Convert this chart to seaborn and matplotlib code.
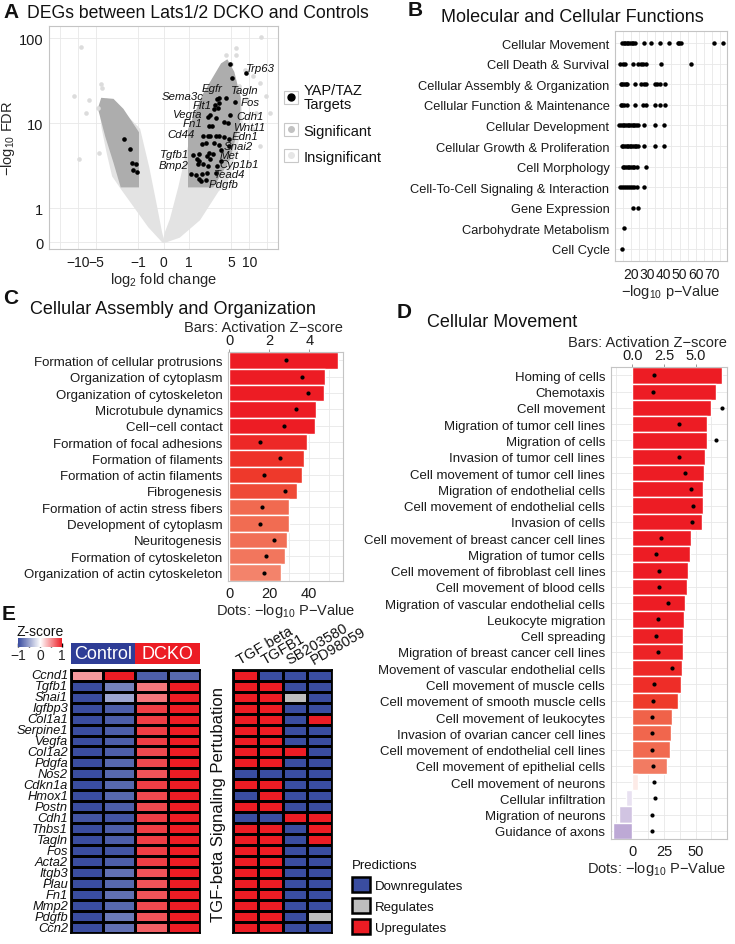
import numpy as np
import pandas as pd
import seaborn as sns
import matplotlib
matplotlib.use('Agg')
import matplotlib.pyplot as plt
from matplotlib.colors import LinearSegmentedColormap, ListedColormap, Normalize
from matplotlib.patches import Patch
from matplotlib.lines import Line2D
from matplotlib.cm import ScalarMappable

# ---------------- A: volcano ----------------
insig_left_x = [0, -0.57, -1.09, -1.83, -2.6, -3.2, -3.9, -4.2, -3.3, -2.1, -0.96, -0.6, -0.3, -0.1]
insig_left_y = [0, 0.46, 1.0, 1.67, 2.4, 4.5, 9, 16, 19, 15, 8.5, 3, 1.07, 0.3]
insig_right_x = [0, 0.1, 0.29, 0.62, 0.89, 1.31, 2.0, 3.0, 4.2, 5.5, 7.0, 7.5, 6.0, 4.15, 3.0, 1.49, 0.62]
insig_right_y = [0, 0.3, 0.67, 1.75, 3.9, 11, 22, 35, 42, 32, 20, 10, 5, 2.0, 1.6, 0.67, 0.16]
sig_left_x = [-1, -1, -1.8, -2.6, -4.0, -4.5, -3.4, -2.5, -1.9]
sig_left_y = [1.8, 7.8, 14.6, 19, 19.5, 15, 7, 3.5, 1.8]
sig_right_x = [1, 1, 1.7, 2.6, 3.5, 4.3, 5.5, 7.0, 6.9, 4.7, 2.5]
sig_right_y = [1.8, 8.5, 21, 35, 50, 55, 40, 20, 11, 3.8, 1.8]
outlier_x = [-8.7, 15.9, -11.6, -9.6, -4.2, -3.9, -6.4, -4.6, -7.4, -4.5, 6.1, 8.4, 11.5, 14.9,
             19.3, 21.8, 13.1, 8.9, 11.5, 14.9, 6.9, 5.0, 4.15, 6.1]
outlier_y = [78.5, 104, 20.8, 3.8, 28.7, 26.3, 18.6, 15.3, 13.4, 4.5, 64.6, 43, 36, 30,
             21, 13.4, 13.4, 19.1, 8.5, 5.4, 27.4, 49.3, 64.6, 77.6]
yap_x = [4.85, 5.2, 8.7, 4.15, 5.9, 4.85, 2.9, 3.21, 2.7, 3.0, 2.65, 3.21, 2.8, 2.27, 2.1, 2.16, 2.45,
         3.89, 4.4, 1.7, 2.05, 2.27, 2.8, 3.21, 3.89, 4.71, 1.66, 1.93, 2.6, 3.1, 4.71, 3.45, 2.16,
         1.49, 1.15, 1.99, 1.35, 1.49, 2.27, 3.45, 1.41, 1.74, 2.1, 2.98, 1.09, 1.32, 1.66, 1.99, 2.8,
         1.45, 1.94, 1.6, 2.48, -1.71, -1.37, -1.27, -1.09, -1.2, -1.03]
yap_y = [50.5, 34.6, 38.7, 20, 17.8, 12.5, 19.2, 17.5, 16.3, 15.3, 14.6, 20, 11.6, 12.4, 12, 9.3, 9.3,
         10.3, 10.2, 7.1, 7.1, 7.1, 7.1, 7.1, 6.9, 6.6, 5.66, 5.8, 5.8, 5.55, 5.4, 4.85, 4.5,
         4.4, 4.2, 4.13, 3.84, 3.6, 3.77, 3.6, 3.29, 3.29, 3.15, 3.15, 2.51, 2.44, 2.51, 2.58, 2.58,
         2.19, 2.13, 2.08, 4.32, 6.6, 5.0, 3.37, 3.32, 2.82, 2.67]
gene_labels = ['Trp63', 'Tagln', 'Egfr', 'Sema3c', 'Fos', 'Flt1', 'Cdh1', 'Vegfa', 'Wnt11', 'Fn1',
               'Cd44', 'Edn1', 'Snai2', 'Tgfb1', 'Met', 'Bmp2', 'Cyp1b1', 'Tead4', 'Pdgfb']
label_x = [15.3, 8.4, 2.45, 0.75, 10.4, 1.67, 10.2, 0.91, 9.9, 1.13, 0.69, 8.4, 6.7, 0.42, 4.58,
           0.38, 6.9, 4.84, 3.74]
label_y = [45.1, 24.7, 26.2, 21.0, 17.8, 16.3, 12.2, 13.0, 9.05, 10.2, 7.4, 7.0, 5.4, 4.4, 4.2,
           3.23, 3.35, 2.5, 1.95]
volcano_xticks = [-10, -5, -1, 0, 1, 5, 10]
volcano_xlabels = ['\u221210', '\u22125', '\u22121', '0', '1', '5', '10']
volcano_yticks = [0, 1, 10, 100]
volcano_ylabels = ['0', '1', '10', '100']

# ---------------- B: molecular and cellular functions ----------------
func_names = ['Cellular Movement', 'Cell Death & Survival', 'Cellular Assembly & Organization',
              'Cellular Function & Maintenance', 'Cellular Development',
              'Cellular Growth & Proliferation', 'Cell Morphology',
              'Cell-To-Cell Signaling & Interaction', 'Gene Expression',
              'Carbohydrate Metabolism', 'Cell Cycle']
func_vals = [
    [14.5, 15.5, 16.5, 17.5, 18.5, 19.5, 20.5, 21.5, 22.5, 27.9, 32.6, 38.1, 43.4, 48.8, 49.8, 50.9, 71.2, 76.7],
    [13.5, 15.0, 16.4, 21.4, 24.5, 26.0, 27.5, 29.6, 38.7, 57.0],
    [13.7, 14.7, 15.7, 16.7, 17.7, 22.4, 26.5, 28.0, 29.6, 34.6, 36.3, 37.9, 40.9],
    [13.7, 14.8, 15.9, 17.3, 22.4, 27.5, 29.6, 34.6, 38.1, 41.3],
    [12.9, 14, 15, 16, 17, 18, 19, 20, 21, 22, 23, 24.5, 27.9, 34.6, 40.7],
    [14.3, 15.3, 16.3, 17.3, 18.3, 19.3, 20.3, 21.3, 22.3, 23.3, 24.5, 27.9, 34.6, 40.7],
    [15, 16, 17, 18, 19, 20, 21, 22, 23.5, 29.1],
    [13.3, 14.5, 15.7, 17, 18.2, 19.5, 20.7, 22, 23.5, 27.9],
    [21.4, 24.5],
    [15.9],
    [14.3],
]

# ---------------- C: cellular assembly and organization ----------------
c_terms = ['Formation of cellular protrusions', 'Organization of cytoplasm',
           'Organization of cytoskeleton', 'Microtubule dynamics', 'Cell\u2212cell contact',
           'Formation of focal adhesions', 'Formation of filaments', 'Formation of actin filaments',
           'Fibrogenesis', 'Formation of actin stress fibers', 'Development of cytoplasm',
           'Neuritogenesis', 'Formation of cytoskeleton', 'Organization of actin cytoskeleton']
c_z = [5.45, 4.79, 4.74, 4.34, 4.29, 3.9, 3.74, 3.62, 3.4, 2.99, 2.97, 2.9, 2.79, 2.57]
c_p = [28.4, 36.2, 39.2, 33.2, 27.5, 15.2, 25.4, 17.4, 27.7, 16.5, 15.4, 22.2, 18.4, 17.5]

# ---------------- D: cellular movement ----------------
d_terms = ['Homing of cells', 'Chemotaxis', 'Cell movement', 'Migration of tumor cell lines',
           'Migration of cells', 'Invasion of tumor cell lines', 'Cell movement of tumor cell lines',
           'Migration of endothelial cells', 'Cell movement of endothelial cells', 'Invasion of cells',
           'Cell movement of breast cancer cell lines', 'Migration of tumor cells',
           'Cell movement of fibroblast cell lines', 'Cell movement of blood cells',
           'Migration of vascular endothelial cells', 'Leukocyte migration', 'Cell spreading',
           'Migration of breast cancer cell lines', 'Movement of vascular endothelial cells',
           'Cell movement of muscle cells', 'Cell movement of smooth muscle cells',
           'Cell movement of leukocytes', 'Invasion of ovarian cancer cell lines',
           'Cell movement of endothelial cell lines', 'Cell movement of epithelial cells',
           'Cell movement of neurons', 'Cellular infiltration', 'Migration of neurons',
           'Guidance of axons']
d_z = [7.1, 6.6, 6.21, 5.92, 5.87, 5.74, 5.68, 5.6, 5.55, 5.48, 4.61, 4.55, 4.42, 4.29, 4.16, 4.11,
       4.03, 3.98, 3.9, 3.82, 3.58, 3.11, 3.05, 2.98, 2.71, 0.42, -0.5, -1.03, -1.5]
d_p = [17.4, 16.1, 70.6, 36.9, 65.8, 37.1, 41.6, 46.1, 47.7, 46.9, 22.4, 18.5, 21.3, 20.8, 28.4, 20.3,
       18.5, 20.5, 31.1, 16.9, 16.1, 15.8, 15.5, 15.8, 16.1, 17.4, 18.2, 15.3, 15.3]

# ---------------- E: heatmaps ----------------
genes = ['Ccnd1', 'Tgfb1', 'Snai1', 'Igfbp3', 'Col1a1', 'Serpine1', 'Vegfa', 'Col1a2', 'Pdgfa', 'Nos2',
         'Cdkn1a', 'Hmox1', 'Postn', 'Cdh1', 'Thbs1', 'Tagln', 'Fos', 'Acta2', 'Itgb3', 'Plau', 'Fn1',
         'Mmp2', 'Pdgfb', 'Ccn2']
ctrl_1 = [0.45, -1.0, -1.05, -1.0, -1.0, -1.0, -1.0, -1.0, -1.0, -1.0, -1.0, -1.0, -1.0, -0.95, -1.0,
          -1.0, -1.0, -1.0, -1.0, -1.0, -1.0, -1.0, -1.0, -1.0]
ctrl_2 = [1.0, -0.7, -0.5, -0.9, -0.9, -0.9, -0.9, -0.9, -0.85, -0.85, -0.85, -0.85, -0.9, -0.95, -0.9,
          -0.9, -0.95, -0.9, -0.8, -0.85, -0.8, -0.85, -0.75, -0.8]
dcko_1 = [-0.9, 0.6, 0.6, 0.85, 0.85, 0.85, 0.85, 0.8, 0.8, 0.75, 0.85, 0.8, 0.8, 0.85, 0.85, 0.85,
          0.85, 0.85, 0.75, 0.75, 0.75, 0.8, 0.75, 0.7]
dcko_2 = [-0.85, 1.0, 1.0, 1.0, 1.0, 1.0, 1.0, 1.0, 1.0, 1.0, 1.0, 1.0, 1.0, 1.0, 1.0, 1.0, 1.0, 1.0,
          1.0, 1.0, 1.0, 1.0, 1.0, 1.0]
groups = ['Control', 'Control', 'DCKO', 'DCKO']
treatments = ['TGF beta', 'TGFB1', 'SB203580', 'PD98059']
pred_tgfbeta = list('UUUUUUUUUDUDUDUUUUUUUUUU')
pred_tgfb1 = list('DUUUUUUUUDUUUDUUUUUUUUUU')
pred_sb = list('DDRDDDDUDDDDDUDDDDDDDDDD')
pred_pd = list('DDDDUDDDDDDDDUUUDDDDDDRD')
pred_names = ['Downregulates', 'Regulates', 'Upregulates']

# ---------------- style ----------------
sns.set_theme(style='white')
plt.rcParams['font.family'] = ['Liberation Sans', 'DejaVu Sans']
plt.rcParams['mathtext.fontset'] = 'custom'
plt.rcParams['mathtext.rm'] = 'Liberation Sans'
plt.rcParams['mathtext.it'] = 'Liberation Sans:italic'
plt.rcParams['text.color'] = '#111111'

W, H = 735, 945
fig = plt.figure(figsize=(W / 100, H / 100), dpi=100)
TITLE = 13
CAT = 9.5


def box(x0, y0, x1, y1):
    return [x0 / W, 1 - y1 / H, (x1 - x0) / W, (y1 - y0) / H]


def gg(ax):
    ax.set_facecolor('white')
    for s in ax.spines.values():
        s.set_visible(True)
        s.set_color('#C4C4C4')
        s.set_linewidth(0.8)
    ax.tick_params(which='both', colors='#8a8a8a', labelcolor='#1a1a1a', length=2.5, width=0.6)
    ax.tick_params(which='minor', length=0)
    ax.grid(True, which='both', color='#E8E8E8', lw=0.6)
    ax.set_axisbelow(True)


# ===== A =====
axA = fig.add_axes(box(49, 27, 278, 250))
gg(axA)
axA.set_xscale('symlog', linthresh=1, linscale=0.378)
axA.set_yscale('symlog', linthresh=1, linscale=0.36)
light, mid = '#E3E3E3', '#ADADAD'
axA.fill(insig_left_x, insig_left_y, fc=light, ec=light, lw=1.5, zorder=1)
axA.fill(insig_right_x, insig_right_y, fc=light, ec=light, lw=1.5, zorder=1)
axA.fill(sig_left_x, sig_left_y, fc=mid, ec=mid, lw=1.2, zorder=2)
axA.fill(sig_right_x, sig_right_y, fc=mid, ec=mid, lw=1.2, zorder=2)
sns.scatterplot(x=outlier_x, y=outlier_y, color='#DCDCDC', s=11, linewidth=0, ax=axA, zorder=3)
sns.scatterplot(x=yap_x, y=yap_y, color='black', s=11, linewidth=0, ax=axA, zorder=4)
for g, x, y in zip(gene_labels, label_x, label_y):
    axA.text(x, y, g, fontsize=8.2, style='italic', ha='center', va='center', zorder=5)
axA.set_xlim(-30, 30)
axA.set_ylim(-0.2, 140)
axA.set_xticks(volcano_xticks, volcano_xlabels)
axA.set_xticks([-20, 20], minor=True)
axA.set_yticks(volcano_yticks, volcano_ylabels)
axA.set_yticks([], minor=True)
axA.tick_params(axis='y', labelsize=10.5, pad=1.5)
axA.tick_params(axis='x', labelsize=10, pad=1.5)
axA.set_xlabel('log$_2$ fold change', fontsize=10.5, labelpad=1)
axA.set_ylabel('\u2212log$_{10}$ FDR', fontsize=10.5, labelpad=1)
keybox = dict(fc='white', ec='#C8C8C8', lw=0.8)
handles = [(Patch(**keybox), Line2D([], [], marker='o', ls='', color='black', ms=5)),
           (Patch(**keybox), Line2D([], [], marker='o', ls='', color='#C2C2C2', ms=4)),
           (Patch(**keybox), Line2D([], [], marker='o', ls='', color='#E6E6E6', ms=4))]
leg = axA.legend(handles, ['YAP/TAZ\nTargets', 'Significant', 'Insignificant'], loc='upper left',
                 bbox_to_anchor=(1.025, 0.745), frameon=False, handlelength=1.0, handleheight=1.0,
                 handletextpad=0.35, labelspacing=0.8, fontsize=10.5, borderpad=0, borderaxespad=0)
for t in leg.get_texts():
    t.set_linespacing(1.05)
fig.text(3 / W, 1 - 12 / H, 'A', fontsize=15, fontweight='bold', va='center')
fig.text(27 / W, 1 - 14 / H, 'DEGs between Lats1/2 DCKO and Controls', fontsize=12.7, va='center')

# ===== B =====
axB = fig.add_axes(box(615, 32, 727, 262))
dfB = pd.DataFrame({'category': np.repeat(func_names, [len(v) for v in func_vals]),
                    'value': np.concatenate(func_vals)})
sns.stripplot(data=dfB, x='value', y='category', order=func_names, jitter=False, color='black',
              size=3.2, linewidth=0, ax=axB)
gg(axB)
axB.set_xlim(10.2, 79.3)
axB.set_ylim(10.6, -0.6)
axB.set_xticks([20, 30, 40, 50, 60, 70])
axB.set_xticks([15, 25, 35, 45, 55, 65, 75], minor=True)
axB.tick_params(axis='x', labelsize=10, pad=1.5)
axB.tick_params(axis='y', labelsize=9.3, pad=1.5)
axB.set_ylabel('')
axB.set_xlabel('\u2212log$_{10}$ p\u2212Value', fontsize=10.5, labelpad=1)
fig.text(408 / W, 1 - 10 / H, 'B', fontsize=15, fontweight='bold', va='center')
fig.text(441 / W, 1 - 18 / H, 'Molecular and Cellular Functions', fontsize=TITLE, va='center')

# bar colour scale (purple - white - red)
zcol = LinearSegmentedColormap.from_list('zbar', [
    (0.0, '#A78DC7'), (2 / 7, '#FFFFFF'), (4.6 / 7, '#F3826A'), (5.0 / 7, '#F16A50'),
    (5.6 / 7, '#EE3B2B'), (6.1 / 7, '#ED1C24'), (1.0, '#ED1C24')])
znorm = Normalize(-2, 5, clip=True)


def bar_panel(rect, terms, z, p, xlim, zticks, zlabels, zminor, pticks, plabels, ploc):
    ax = fig.add_axes(rect)
    df = pd.DataFrame({'term': terms, 'z': z})
    pal = {t: zcol(znorm(v)) for t, v in zip(terms, z)}
    sns.barplot(data=df, x='z', y='term', hue='term', palette=pal, width=1, saturation=1,
                legend=False, ax=ax)
    gg(ax)
    ax.set_xlim(*xlim)
    ax.set_ylim(len(terms) - 0.5, -0.5)
    ax.xaxis.tick_top()
    ax.xaxis.set_label_position('top')
    ax.set_xticks(zticks, zlabels)
    ax.set_xticks(zminor, minor=True)
    ax.tick_params(axis='x', labelsize=10.5, pad=1)
    ax.tick_params(axis='y', labelsize=CAT, pad=1.5)
    ax.set_ylabel('')
    ax.set_xlabel('Bars: Activation Z\u2212score', fontsize=10.5, loc='right', labelpad=2)
    # dots on an overlay axes with the -log10 p scale (10x the bar scale)
    ax2 = fig.add_axes(rect)
    ax2.patch.set_visible(False)
    sns.scatterplot(x=p, y=np.arange(len(terms)), color='black', s=9, linewidth=0, ax=ax2, zorder=5)
    ax2.set_xlim(xlim[0] * 10, xlim[1] * 10)
    ax2.set_ylim(len(terms) - 0.5, -0.5)
    ax2.set_yticks([])
    for s in ax2.spines.values():
        s.set_visible(False)
    ax2.set_xticks(pticks, plabels)
    ax2.tick_params(axis='x', colors='#8a8a8a', labelcolor='#1a1a1a', length=2.5, width=0.6,
                    labelsize=10.5, pad=1)
    ax2.set_xlabel('Dots: \u2212log$_{10}$ P\u2212Value', fontsize=10.5, labelpad=1, loc=ploc)
    return ax


bar_panel(box(228.3, 353.3, 342.7, 581.7), c_terms, c_z, c_p, (-0.05, 5.67),
          [0, 2, 4], ['0', '2', '4'], [1, 3, 5], [0, 20, 40], ['0', '20', '40'], 'center')
fig.text(3 / W, 1 - 298 / H, 'C', fontsize=15, fontweight='bold', va='center')
fig.text(30 / W, 1 - 310 / H, 'Cellular Assembly and Organization', fontsize=TITLE, va='center')

bar_panel(box(610.7, 368.3, 726.7, 840), d_terms, d_z, d_p, (-1.7, 7.45),
          [0, 2.5, 5.0], ['0.0', '2.5', '5.0'], [-1.25, 1.25, 3.75, 6.25], [0, 25, 50],
          ['0', '25', '50'], 'right')
fig.text(397 / W, 1 - 313 / H, 'D', fontsize=15, fontweight='bold', va='center')
fig.text(427 / W, 1 - 323 / H, 'Cellular Movement', fontsize=TITLE, va='center')

# ===== E =====
blue, red, grey = '#3A4DA0', '#EC1C24', '#BEBEBE'
zmap = LinearSegmentedColormap.from_list('zs', [blue, '#FFFFFF', red])

axH = fig.add_axes(box(70.7, 670.7, 200, 934))
zdf = pd.DataFrame({'c1': ctrl_1, 'c2': ctrl_2, 'd1': dcko_1, 'd2': dcko_2}, index=genes)
sns.heatmap(zdf, cmap=zmap, vmin=-1, vmax=1, linewidths=1, linecolor='black', cbar=False,
            xticklabels=False, yticklabels=True, ax=axH)
axH.tick_params(axis='y', length=0, pad=2, labelsize=9.3, labelcolor='#111111')
for t in axH.get_yticklabels():
    t.set_fontstyle('italic')
    t.set_rotation(0)
axH.set_ylabel('')
for s in axH.spines.values():
    s.set_visible(True)
    s.set_color('black')
    s.set_linewidth(1.3)

axG = fig.add_axes(box(70.7, 644.3, 200, 665))
gcodes = pd.DataFrame([[0 if g == 'Control' else 1 for g in groups]])
sns.heatmap(gcodes, cmap=ListedColormap(['#2E3D96', red]), vmin=0, vmax=1, cbar=False,
            xticklabels=False, yticklabels=False, ax=axG)
axG.text(1, 0.5, 'Control', color='white', fontsize=13, ha='center', va='center')
axG.text(3, 0.5, 'DCKO', color='white', fontsize=13, ha='center', va='center')

cax = fig.add_axes(box(18.3, 639, 62.3, 647.7))
cb = fig.colorbar(ScalarMappable(Normalize(-1, 1), zmap), cax=cax, orientation='horizontal')
cb.set_ticks([-1, -0.5, 0, 0.5, 1], labels=['\u22121', '', '0', '', '1'])
cb.ax.tick_params(direction='in', length=3, width=1, color='black', labelsize=10, pad=1)
cb.outline.set_visible(False)
cax.set_title('Z-score', fontsize=10, pad=1.5)

axP = fig.add_axes(box(233.3, 670.7, 331.7, 934))
code = {'D': 0, 'R': 1, 'U': 2}
pdf = pd.DataFrame({t: [code[v] for v in col] for t, col in
                    zip(treatments, [pred_tgfbeta, pred_tgfb1, pred_sb, pred_pd])}, index=genes)
sns.heatmap(pdf, cmap=ListedColormap([blue, grey, red]), vmin=-0.5, vmax=2.5, linewidths=1,
            linecolor='black', cbar=False, xticklabels=False, yticklabels=False, ax=axP)
for s in axP.spines.values():
    s.set_visible(True)
    s.set_color('black')
    s.set_linewidth(1.3)
for i, t in enumerate(treatments):
    axP.text(i + 0.35, -0.3, t, rotation=30, ha='left', va='bottom', rotation_mode='anchor',
             fontsize=10.5)
fig.text(218 / W, 1 - 805 / H, 'TGF-beta Signaling Pertubation', rotation=90, ha='center',
         va='center', fontsize=12)

leg_handles = [Patch(fc=c, ec='black', lw=1.8) for c in [blue, grey, red]]
fig.legend(leg_handles, pred_names, title='Predictions', loc='upper left',
           bbox_to_anchor=(345 / W, 1 - 853 / H), frameon=False, fontsize=9.5, title_fontsize=9.5,
           handlelength=1.4, handleheight=1.4, labelspacing=0.45, alignment='left', borderpad=0,
           handletextpad=0.4)
fig.text(2 / W, 1 - 615 / H, 'E', fontsize=15, fontweight='bold', va='center')

fig.savefig('out.png', dpi=100)
